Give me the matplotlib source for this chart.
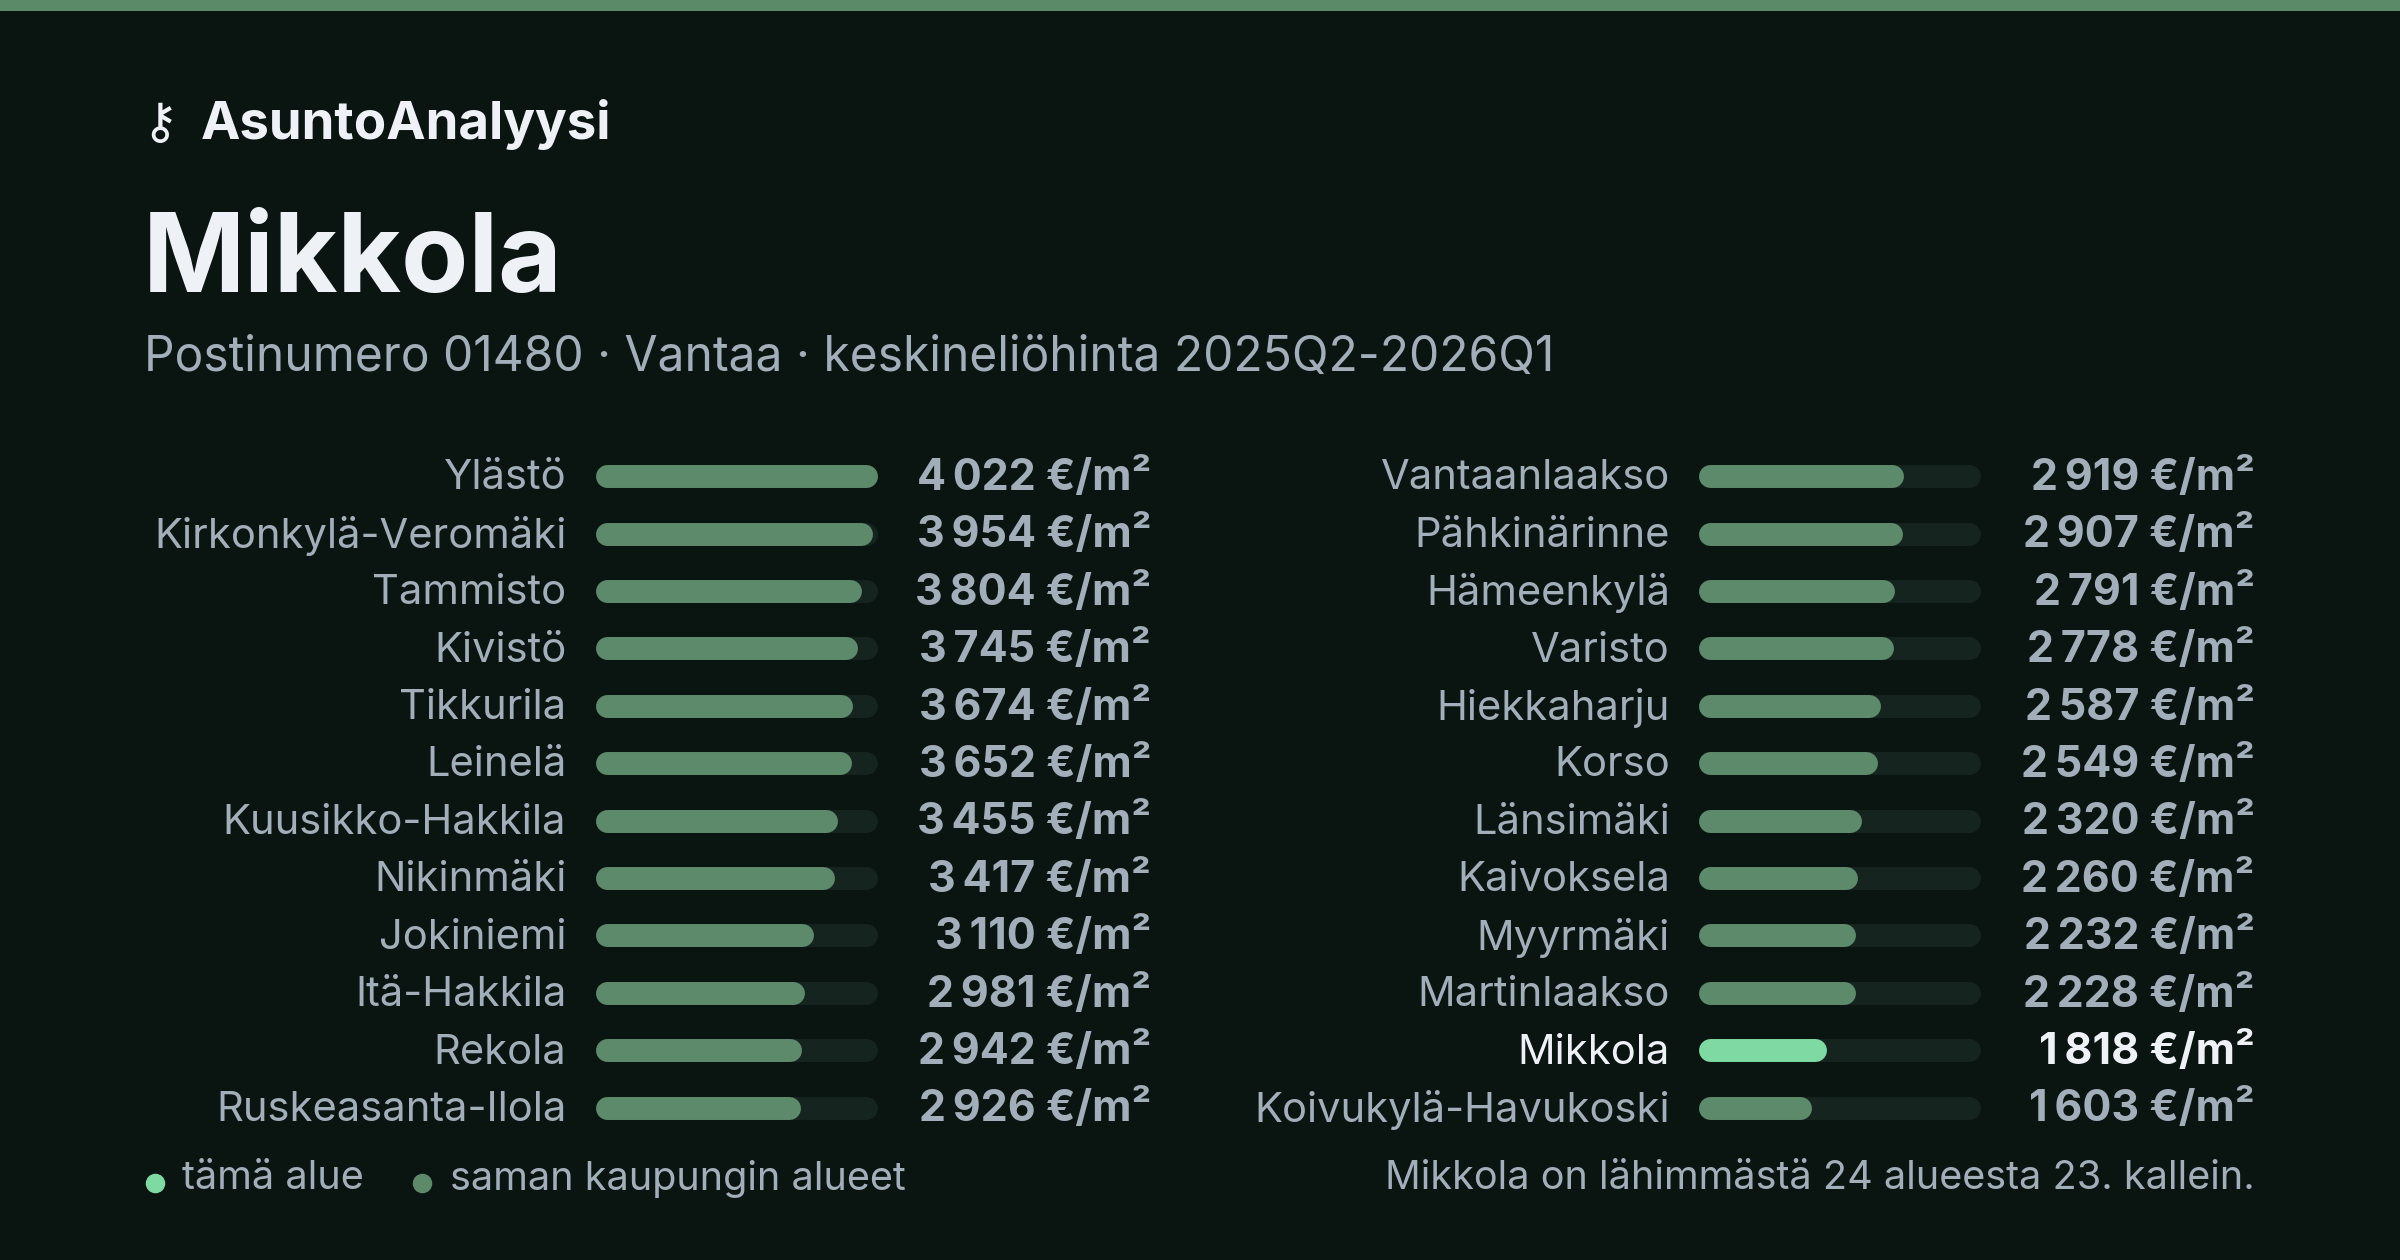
import matplotlib
matplotlib.use("Agg")
import matplotlib.pyplot as plt
from matplotlib.patches import Rectangle

left_names = ["Ylästö", "Kirkonkylä-Veromäki", "Tammisto", "Kivistö", "Tikkurila", "Leinelä",
              "Kuusikko-Hakkila", "Nikinmäki", "Jokiniemi", "Itä-Hakkila", "Rekola", "Ruskeasanta-Ilola"]
left_values = [4022, 3954, 3804, 3745, 3674, 3652, 3455, 3417, 3110, 2981, 2942, 2926]
right_names = ["Vantaanlaakso", "Pähkinärinne", "Hämeenkylä", "Varisto", "Hiekkaharju", "Korso",
               "Länsimäki", "Kaivoksela", "Myyrmäki", "Martinlaakso", "Mikkola", "Koivukylä-Havukoski"]
right_values = [2919, 2907, 2791, 2778, 2587, 2549, 2320, 2260, 2232, 2228, 1818, 1603]
highlight = "Mikkola"

BG = "#0a1512"
TRACK = "#15241f"
BAR = "#5e8a6c"
HI = "#7fd9a3"
LABEL = "#a3aebb"
WHITE = "#eef2f7"

plt.rcParams['font.family'] = ['Inter', 'DejaVu Sans']
fig = plt.figure(figsize=(24, 12.6), dpi=100, facecolor=BG)
ax = fig.add_axes([0, 0, 1, 1])
ax.set_facecolor(BG)
ax.set_xlim(0, 1568)
ax.set_ylim(823, 0)
ax.axis("off")

ax.add_patch(Rectangle((0, 0), 1568, 7, color="#5a8a68", lw=0))
ax.text(104, 81, "⚷", color=WHITE, fontsize=36, ha="center", va="center", family="DejaVu Sans")
ax.text(131, 81, "AsuntoAnalyysi", color=WHITE, fontsize=38, fontweight="bold", va="center")
ax.text(93, 172, "Mikkola", color=WHITE, fontsize=79, fontweight="bold", va="center")
ax.text(94, 234, "Postinumero 01480 · Vantaa · keskineliöhinta 2025Q2-2026Q1", color=LABEL,
        fontsize=34.5, va="center")

maxv = max(left_values + right_values)
track_w = 184
y0, dy = 311, 37.5
H = 15
lw_pt = H * 1260 / 823 * 0.72
r = H / 2

def rounded(y, x, w, color):
    ax.plot([x + r, x + max(w - r, r)], [y, y], color=color, lw=lw_pt, solid_capstyle="round")

def column(names, values, label_x, bar_x, value_x):
    ys = [y0 + i * dy for i in range(len(names))]
    for n, v, y in zip(names, values, ys):
        hi = n == highlight
        rounded(y, bar_x, track_w, TRACK)
        rounded(y, bar_x, v / maxv * track_w, HI if hi else BAR)
        ax.text(label_x, y + 1.5, n, color=WHITE if hi else LABEL, fontsize=30, ha="right", va="center")
        ax.text(value_x, y + 1.5, f"{v:,}".replace(",", "\u2009") + " €/m²", color=WHITE if hi else LABEL,
                fontsize=31, fontweight="bold", ha="right", va="center")

column(left_names, left_values, 370, 389, 752)
column(right_names, right_values, 1091, 1110, 1473)

ax.scatter([101], [773], s=170, color=HI)
ax.text(119, 770, "tämä alue", color=LABEL, fontsize=28.5, va="center")
ax.scatter([276], [773], s=170, color=BAR)
ax.text(294, 770, "saman kaupungin alueet", color=LABEL, fontsize=28.5, va="center")
ax.text(1473, 770, "Mikkola on lähimmästä 24 alueesta 23. kallein.", color=LABEL, fontsize=28.5,
        ha="right", va="center")

fig.savefig("out.png", dpi=100, facecolor=BG)
